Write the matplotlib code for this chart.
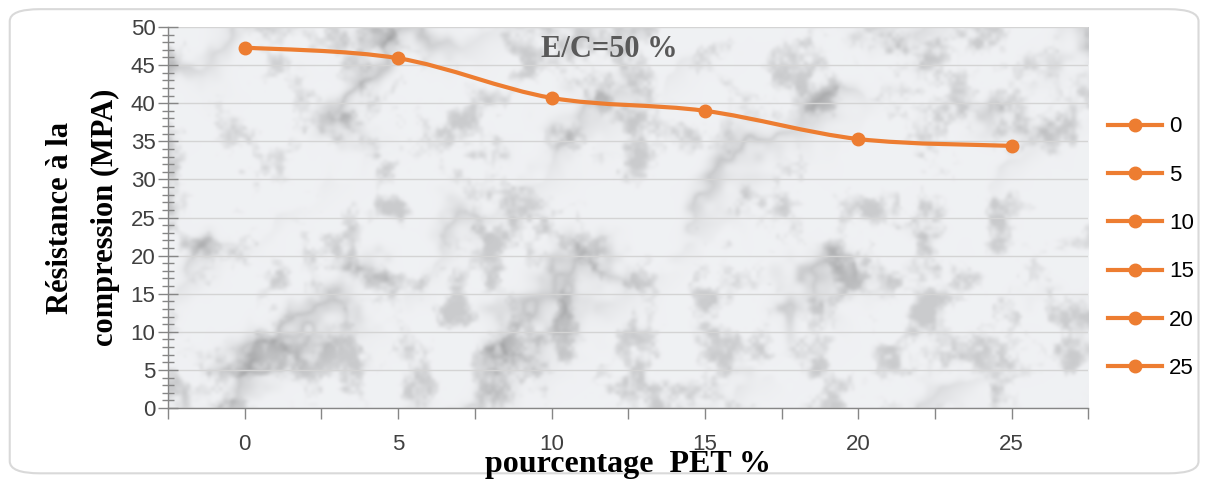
import numpy as np
import matplotlib
matplotlib.use("Agg")
import matplotlib.pyplot as plt
from matplotlib.path import Path
from matplotlib.patches import PathPatch, FancyBboxPatch
from matplotlib.lines import Line2D
from matplotlib.ticker import MultipleLocator

# PET content (%) and compressive strength (MPa), W/C = 50 %
pet_labels = ["0", "5", "10", "15", "20", "25"]
strength = [47.3, 45.9, 40.7, 39.0, 35.3, 34.4]

ORANGE = "#ED7D31"
TXT = "#404040"


def lattice(ix, iy, seed):
    v = np.sin(ix * 12.9898 + iy * 78.233 + seed * 37.719) * 43758.5453
    return v - np.floor(v)


def value_noise(w, h, cell, seed):
    gx = np.arange(w) / cell
    gy = np.arange(h) / cell
    X, Y = np.meshgrid(gx, gy)
    x0, y0 = np.floor(X), np.floor(Y)
    fx, fy = X - x0, Y - y0
    fx = fx * fx * (3 - 2 * fx)
    fy = fy * fy * (3 - 2 * fy)
    a = lattice(x0, y0, seed)
    b = lattice(x0 + 1, y0, seed)
    c = lattice(x0, y0 + 1, seed)
    d = lattice(x0 + 1, y0 + 1, seed)
    return (a * (1 - fx) + b * fx) * (1 - fy) + (c * (1 - fx) + d * fx) * fy


def fbm(w, h, cells, seed):
    out = np.zeros((h, w))
    amp, total = 1.0, 0.0
    for k, cell in enumerate(cells):
        out += amp * value_noise(w, h, cell, seed + k)
        total += amp
        amp *= 0.6
    return out / total


def smoothstep(a, b, v):
    t = np.clip((v - a) / (b - a), 0, 1)
    return t * t * (3 - 2 * t)


def marble(w, h):
    # soft white marble: grey mottling plus a few diagonal veins
    turb = fbm(w, h, [40, 20, 10, 5], 1)
    mottle = fbm(w, h, [18, 9, 4, 2], 20)
    Y, X = np.mgrid[0:h, 0:w]
    t = np.sin((X + Y * 1.2) * 0.028 + 4.0 * turb)
    veins = (1 - np.abs(t)) ** 2.5
    spots = smoothstep(0.5, 0.78, mottle)
    img = 0.955 - 0.17 * veins * smoothstep(0.3, 0.7, turb) - 0.15 * spots
    img = np.clip(img, 0, 1)
    rgb = np.dstack([img * 0.985, img * 0.99, img * 1.0])
    return np.clip(rgb, 0, 1)


fig = plt.figure(figsize=(12.18, 4.82), dpi=100)
fig.patch.set_facecolor("white")
fig.patches.append(FancyBboxPatch((0.008, 0.018), 0.976, 0.963,
                                  boxstyle="round,pad=0,rounding_size=0.025",
                                  transform=fig.transFigure, facecolor="none",
                                  edgecolor="#d9d9d9", linewidth=1.5, zorder=-1))

ax = fig.add_axes([0.138, 0.1535, 0.7555, 0.7905])
ax.set_facecolor("none")
x = np.arange(len(strength))
ax.set_xlim(-0.5, len(strength) - 0.5)
ax.set_ylim(0, 50)

ax.imshow(marble(460, 190), extent=(-0.5, len(strength) - 0.5, 0, 50),
          aspect="auto", zorder=0, interpolation="bicubic")

# smoothed line (Catmull-Rom as cubic Bezier segments)
pts = np.column_stack([x, strength]).astype(float)
verts = [pts[0]]
codes = [Path.MOVETO]
n = len(pts)
for i in range(n - 1):
    p0 = pts[max(i - 1, 0)]
    p1 = pts[i]
    p2 = pts[i + 1]
    p3 = pts[min(i + 2, n - 1)]
    verts += [p1 + (p2 - p0) / 6, p2 - (p3 - p1) / 6, p2]
    codes += [Path.CURVE4] * 3
ax.add_patch(PathPatch(Path(verts, codes), facecolor="none", edgecolor=ORANGE,
                       linewidth=3, capstyle="round", zorder=3))
ax.plot(x, strength, linestyle="none", marker="o", markersize=9,
        color=ORANGE, zorder=4)

ax.yaxis.set_major_locator(MultipleLocator(5))
ax.yaxis.set_minor_locator(MultipleLocator(1))
ax.grid(axis="y", color="#d4d4d4", linewidth=1, zorder=1)
ax.set_axisbelow(False)
ax.set_xticks(x)
ax.set_xticklabels(pet_labels)
ax.set_xticks(np.arange(-0.5, len(strength)), minor=True)
ax.tick_params(axis="y", which="major", direction="inout", length=14, width=1,
               color="#868686", labelsize=16, labelcolor=TXT, pad=2)
ax.tick_params(axis="y", which="minor", direction="inout", length=8, width=1,
               color="#868686")
ax.tick_params(axis="x", which="both", direction="out", length=8, width=1,
               color="#868686", labelsize=16, labelcolor=TXT, pad=11)
for lab in ax.get_xticklabels() + ax.get_yticklabels():
    lab.set_family("Liberation Sans")

for s in ["top", "right"]:
    ax.spines[s].set_visible(False)
for s in ["left", "bottom"]:
    ax.spines[s].set_color("#868686")
    ax.spines[s].set_linewidth(1)
    ax.spines[s].set_zorder(5)

ax.text(0.479, 0.94, "E/C=50 %", transform=ax.transAxes, ha="center", va="center",
        fontsize=22, fontweight="bold", family="Liberation Serif", color="#595959",
        zorder=6)

ax.set_xlabel("pourcentage  PET %", fontsize=23, fontweight="bold",
              family="Liberation Serif", color="black", labelpad=-4)
ax.set_ylabel("Résistance à la\ncompression (MPA)", fontsize=22, fontweight="bold",
              family="Liberation Serif", color="black", linespacing=1.7, labelpad=8)

handles = [Line2D([], [], color=ORANGE, linewidth=3, marker="o", markersize=9)
           for _ in pet_labels]
leg = fig.legend(handles, pet_labels, loc="upper left",
                 bbox_to_anchor=(0.893, 0.80), frameon=False, handlelength=2.45,
                 handletextpad=0.3, labelspacing=1.23,
                 prop={"family": "Liberation Sans", "size": 16})
for t in leg.get_texts():
    t.set_color("black")

fig.savefig("out.png", dpi=100)
